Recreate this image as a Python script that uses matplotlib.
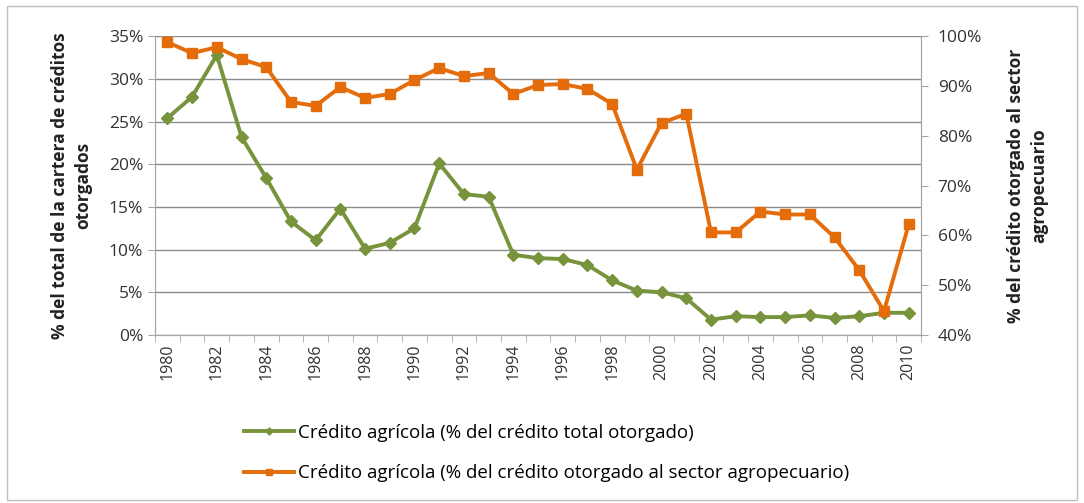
import numpy as np
import matplotlib
matplotlib.use("Agg")
import matplotlib.pyplot as plt
from matplotlib.ticker import PercentFormatter, FixedLocator, NullFormatter

plt.rcParams['font.family'] = ['Open Sans', 'DejaVu Sans']

## datos
years = list(range(1980, 2011))
credito_total = [25.4, 27.9, 32.8, 23.2, 18.4, 13.3, 11.1, 14.8, 10.1, 10.8,
                 12.5, 20.1, 16.5, 16.2, 9.4, 9.0, 8.9, 8.2, 6.4, 5.2,
                 5.0, 4.3, 1.8, 2.2, 2.1, 2.1, 2.3, 2.0, 2.2, 2.6, 2.6]
credito_agro = [98.8, 96.6, 97.8, 95.4, 93.8, 86.8, 86.0, 89.8, 87.6, 88.4,
                91.2, 93.6, 92.0, 92.6, 88.4, 90.2, 90.4, 89.4, 86.4, 73.2,
                82.6, 84.4, 60.6, 60.6, 64.8, 64.2, 64.2, 59.6, 53.0, 44.8, 62.2]
label_total = 'Crédito agrícola (% del crédito total otorgado)'
label_agro = 'Crédito agrícola (% del crédito otorgado al sector agropecuario)'

green = '#77933C'
orange = '#E46C0A'
grey = '#A6A6A6'

fig = plt.figure(figsize=(10.84, 5.03), dpi=100)
fig.patches.append(plt.Rectangle((0.006, 0.006), 0.988, 0.982, transform=fig.transFigure,
                                 fill=False, edgecolor='#BFBFBF', linewidth=1))
ax = fig.add_axes([0.143, 0.334, 0.7067, 0.594])
ax2 = ax.twinx()

x = np.arange(len(years))
l1, = ax.plot(x, credito_total, color=green, lw=2.8, marker='D', ms=6,
              label=label_total)
l2, = ax2.plot(x, credito_agro, color=orange, lw=2.8, marker='s', ms=7.5,
               label=label_agro)

## ejes
ax.set_xlim(-0.5, len(years) - 0.5)
ax.set_ylim(0, 35)
ax.set_yticks(np.arange(0, 36, 5))
ax.yaxis.set_major_formatter(PercentFormatter(decimals=0))
ax2.set_ylim(40, 100)
ax2.set_yticks(np.arange(40, 101, 10))
ax2.yaxis.set_major_formatter(PercentFormatter(decimals=0))

ax.set_xticks(x[::2])
ax.set_xticklabels([str(y) for y in years[::2]], rotation=90)
ax.xaxis.set_minor_locator(FixedLocator(np.arange(-0.5, len(years), 1)))
ax.xaxis.set_minor_formatter(NullFormatter())
ax.tick_params(axis='x', which='major', length=0, pad=6)
ax.tick_params(axis='x', which='minor', length=5, color=grey)

ax.grid(axis='y', color='#8C8C8C', lw=1)
ax.set_axisbelow(True)
for a in (ax, ax2):
    a.spines['top'].set_visible(False)
    for s in ('left', 'right', 'bottom'):
        a.spines[s].set_color(grey)
    a.tick_params(axis='y', length=5, color=grey, labelsize=12.5, labelcolor='#333333')
ax.tick_params(axis='x', labelsize=11.5, labelcolor='#333333')
ax2.tick_params(axis='y', pad=7)

ax.set_ylabel('% del total de la cartera de créditos\notorgados', fontsize=12.5,
              fontweight='bold', color='#222222', labelpad=12, linespacing=1.35)
ax2.set_ylabel('% del crédito otorgado al sector\nagropecuario', fontsize=12.5,
               fontweight='bold', color='#222222', labelpad=18, linespacing=1.35,
               rotation=90)

fig.legend(handles=[l1, l2], loc='upper left', bbox_to_anchor=(0.218, 0.172),
           frameon=False, fontsize=13.5, handlelength=2.7, handletextpad=0.2,
           labelspacing=1.2, markerscale=0.6, borderaxespad=0)

fig.savefig('out.png', dpi=100)
